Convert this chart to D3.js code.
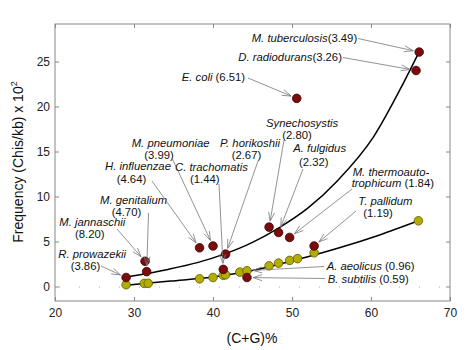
<!DOCTYPE html>
<html>
<head>
<meta charset="utf-8">
<script src="https://cdn.jsdelivr.net/npm/d3@7"></script>
<style>
  body { margin: 0; background: #fff; }
  text { font-family: "Liberation Sans", Arial, sans-serif; }
</style>
</head>
<body>
<script>
// valores
const xTicks = [20, 30, 40, 50, 60, 70];
const yTicks = [0, 5, 10, 15, 20, 25];

// pontos vermelhos (Chis / kb)
const redCG   = [29.0, 31.4, 31.6, 38.3, 40.0, 41.3, 41.6, 44.3, 47.1, 48.3, 49.7, 50.6, 52.8, 65.7, 66.1];
const redFreq = [1.0, 2.8, 1.65, 4.3, 4.5, 1.9, 3.6, 1.0, 6.6, 6.0, 5.45, 20.9, 4.5, 24.0, 26.05];

// pontos amarelos
const yelCG   = [29.0, 31.3, 31.8, 38.3, 40.0, 41.3, 41.6, 43.4, 44.3, 47.1, 48.3, 49.7, 50.7, 52.8, 66.0];
const yelFreq = [0.2, 0.35, 0.35, 0.85, 1.0, 1.25, 1.3, 1.6, 1.75, 2.3, 2.6, 2.9, 3.1, 3.75, 7.3];

// curvas ajustadas
const fitRedCG   = [29, 34.3, 38, 41.6, 45, 48.5, 52, 55.7, 60.3, 64.1, 66];
const fitRedFreq = [1.05, 1.9, 2.65, 3.65, 4.9, 6.6, 8.7, 11.7, 16.6, 22.6, 25.9];
const fitYelCG   = [29, 34.6, 40, 44, 48.5, 52, 56, 61, 66];
const fitYelFreq = [0.15, 0.6, 1.05, 1.6, 2.5, 3.3, 4.3, 5.7, 7.3];

// especies anotadas e indice do ponto alvo
const species = ["R. prowazekii", "M. jannaschii", "M. genitalium", "H. influenzae", "M. pneumoniae",
  "C. trachomatis", "P. horikoshii", "B. subtilis", "Synechosystis", "A. fulgidus",
  "M. thermoauto-|trophicum", "E. coli", "T. pallidum", "D. radiodurans", "M. tuberculosis", "A. aeolicus"];
const speciesVal = ["3.86", "8.20", "4.70", "4.64", "3.99", "1.44", "2.67", "0.59", "2.80", "2.32",
  "1.84", "6.51", "1.19", "3.26", "3.49", "0.96"];
const targetSeries = ["r","r","r","r","r","r","r","r","r","r","r","r","r","r","r","y"];
const targetIdx = [0, 1, 2, 3, 4, 5, 6, 7, 8, 9, 10, 11, 12, 13, 14, 8];

// posicao dos rotulos (layout, em pixels)
// lines: [x, baseline] para cada linha; ax, ay: inicio da seta
const labelLayout = [
  { lines: [[58.3, 258], [70.7, 270]], ax: 101, ay: 266 },
  { lines: [[59.3, 226.3], [75, 238]], ax: 117, ay: 229 },
  { lines: [[100, 204], [111.7, 216.3]], ax: 148.5, ay: 213 },
  { lines: [[105, 170], [116.7, 183]], ax: 152, ay: 181 },
  { lines: [[131.7, 146.7], [144.3, 159]], ax: 172, ay: 158 },
  { lines: [[175, 170.7], [190, 183]], ax: 219, ay: 184 },
  { lines: [[220, 147.3], [231.7, 159]], ax: 258, ay: 161 },
  { lines: [[327.7, 282.7]], inline: true, ax: 325, ay: 278.5 },
  { lines: [[266, 126.7], [282.3, 139]], ax: 284, ay: 140 },
  { lines: [[293.3, 152.3], [299, 165.7]], ax: 303, ay: 169 },
  { lines: [[352.7, 175.7], [351.7, 187.3]], ax: 352, ay: 189 },
  { lines: [[181.7, 80.7]], inline: true, ax: 248, ay: 78 },
  { lines: [[358.3, 205], [363.3, 217.3]], ax: 356, ay: 211 },
  { lines: [[238.3, 60.7]], inline: true, nospace: true, ax: 343, ay: 57.5 },
  { lines: [[251.7, 41.5]], inline: true, nospace: true, ax: 358, ay: 38.5 },
  { lines: [[326.7, 269.7]], inline: true, ax: 324, ay: 266.5 }
];

const W = 467, H = 350;
const box = { left: 55, right: 450, top: 24, bottom: 301 };

const svg = d3.select("body").append("svg")
  .attr("width", W)
  .attr("height", H);

const x = d3.scaleLinear().domain([20, 70]).range([box.left, box.right]);
const y = d3.scaleLinear().domain([0, 25]).range([286.5, 61.5]);

// linha pontilhada em y = 0
svg.append("line")
  .attr("x1", box.left + 4).attr("x2", box.right - 4)
  .attr("y1", y(0) + 0.5).attr("y2", y(0) + 0.5)
  .attr("stroke", "#aaa")
  .attr("stroke-width", 1)
  .attr("stroke-dasharray", "1,19");

// eixos com ticks para dentro
const tickColor = "#888";
function styleAxis(g, showText) {
  g.select(".domain").remove();
  g.selectAll(".tick line").attr("stroke", tickColor);
  g.selectAll(".tick text")
    .attr("fill", "#222")
    .style("font-size", "12px")
    .style("font-family", "'Liberation Sans', Arial, sans-serif")
    .style("display", showText ? null : "none");
}

svg.append("g")
  .attr("transform", `translate(0,${box.bottom})`)
  .call(d3.axisBottom(x).tickValues(xTicks).tickSize(-4).tickPadding(7))
  .call(g => styleAxis(g, true));

svg.append("g")
  .attr("transform", `translate(0,${box.top})`)
  .call(d3.axisTop(x).tickValues(xTicks).tickSize(-4))
  .call(g => styleAxis(g, false));

svg.append("g")
  .attr("transform", `translate(${box.left},0)`)
  .call(d3.axisLeft(y).tickValues(yTicks).tickSize(-4).tickPadding(5))
  .call(g => styleAxis(g, true));

svg.append("g")
  .attr("transform", `translate(${box.right},0)`)
  .call(d3.axisRight(y).tickValues(yTicks).tickSize(-4))
  .call(g => styleAxis(g, false));

// moldura
svg.append("rect")
  .attr("x", box.left).attr("y", box.top)
  .attr("width", box.right - box.left).attr("height", box.bottom - box.top)
  .attr("fill", "none")
  .attr("stroke", tickColor)
  .attr("stroke-width", 1);

// titulos dos eixos
svg.append("text")
  .attr("x", (box.left + box.right) / 2 - 0.5)
  .attr("y", 343)
  .attr("text-anchor", "middle")
  .attr("font-size", 14)
  .attr("fill", "#111")
  .text("(C+G)%");

const yTitle = svg.append("text")
  .attr("transform", "translate(23,162) rotate(-90)")
  .attr("text-anchor", "middle")
  .attr("font-size", 14)
  .attr("fill", "#111");
yTitle.append("tspan").text("Frequency (Chis/kb) x 10");
yTitle.append("tspan").attr("font-size", 9).attr("dy", -6).text("2");

// curvas
const line = d3.line()
  .x(d => x(d[0]))
  .y(d => y(d[1]))
  .curve(d3.curveMonotoneX);

svg.append("path")
  .datum(fitRedCG.map((v, i) => [v, fitRedFreq[i]]))
  .attr("d", line)
  .attr("fill", "none")
  .attr("stroke", "#000")
  .attr("stroke-width", 1.5);

svg.append("path")
  .datum(fitYelCG.map((v, i) => [v, fitYelFreq[i]]))
  .attr("d", line)
  .attr("fill", "none")
  .attr("stroke", "#000")
  .attr("stroke-width", 1.5);

// pontos
const r = 4.3;
svg.append("g").selectAll("circle")
  .data(yelCG.map((v, i) => [v, yelFreq[i]]))
  .join("circle")
  .attr("cx", d => x(d[0]))
  .attr("cy", d => y(d[1]))
  .attr("r", r)
  .attr("fill", "#b3ad00")
  .attr("stroke", "#5e5a00")
  .attr("stroke-width", 0.8);

svg.append("g").selectAll("circle")
  .data(redCG.map((v, i) => [v, redFreq[i]]))
  .join("circle")
  .attr("cx", d => x(d[0]))
  .attr("cy", d => y(d[1]))
  .attr("r", r)
  .attr("fill", "#7a0c0c")
  .attr("stroke", "#3c0000")
  .attr("stroke-width", 0.8);

// anotacoes
const arrowColor = "#777";
const annG = svg.append("g");

species.forEach((name, i) => {
  const lay = labelLayout[i];
  const val = speciesVal[i];
  const parts = name.split("|");

  if (lay.inline) {
    const t = annG.append("text")
      .attr("x", lay.lines[0][0]).attr("y", lay.lines[0][1])
      .attr("font-size", 11.3).attr("fill", "#111");
    t.append("tspan").attr("font-style", "italic").text(parts[0]);
    t.append("tspan").text((lay.nospace ? "" : " ") + "(" + val + ")");
  } else if (parts.length > 1) {
    annG.append("text")
      .attr("x", lay.lines[0][0]).attr("y", lay.lines[0][1])
      .attr("font-size", 11.3).attr("fill", "#111")
      .attr("font-style", "italic")
      .text(parts[0]);
    const t2 = annG.append("text")
      .attr("x", lay.lines[1][0]).attr("y", lay.lines[1][1])
      .attr("font-size", 11.3).attr("fill", "#111");
    t2.append("tspan").attr("font-style", "italic").text(parts[1]);
    t2.append("tspan").text(" (" + val + ")");
  } else {
    annG.append("text")
      .attr("x", lay.lines[0][0]).attr("y", lay.lines[0][1])
      .attr("font-size", 11.3).attr("fill", "#111")
      .attr("font-style", "italic")
      .text(parts[0]);
    annG.append("text")
      .attr("x", lay.lines[1][0]).attr("y", lay.lines[1][1])
      .attr("font-size", 11.3).attr("fill", "#111")
      .text("(" + val + ")");
  }

  // seta
  const k = targetIdx[i];
  const px = targetSeries[i] === "r" ? x(redCG[k]) : x(yelCG[k]);
  const py = targetSeries[i] === "r" ? y(redFreq[k]) : y(yelFreq[k]);
  const dx = px - lay.ax, dy = py - lay.ay;
  const len = Math.sqrt(dx * dx + dy * dy);
  const ux = dx / len, uy = dy / len;
  const tx = px - ux * (r + 1.8), ty = py - uy * (r + 1.8);

  annG.append("line")
    .attr("x1", lay.ax).attr("y1", lay.ay)
    .attr("x2", tx).attr("y2", ty)
    .attr("stroke", arrowColor)
    .attr("stroke-width", 0.8);

  const hl = 9, hw = 3;
  const bx = tx - ux * hl, by = ty - uy * hl;
  annG.append("path")
    .attr("d", `M${bx - uy * hw},${by + ux * hw}L${tx},${ty}L${bx + uy * hw},${by - ux * hw}`)
    .attr("fill", "none")
    .attr("stroke", arrowColor)
    .attr("stroke-width", 0.8);
});
</script>
</body>
</html>
